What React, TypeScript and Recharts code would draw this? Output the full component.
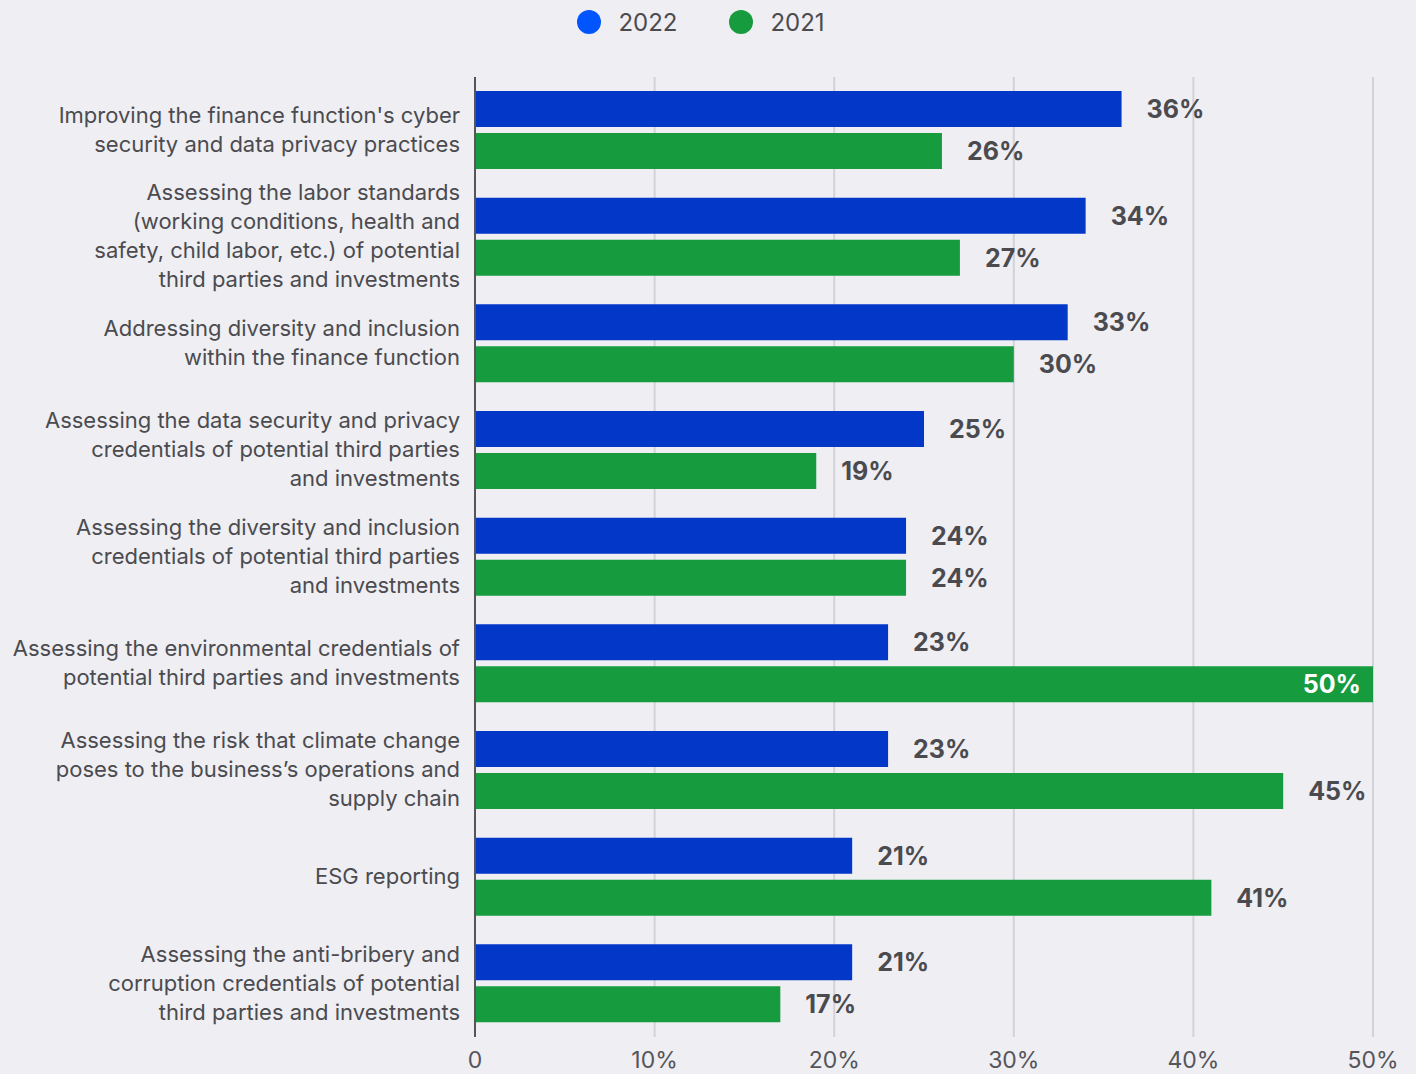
import { BarChart, Bar, XAxis, YAxis, CartesianGrid, Legend, LabelList } from "recharts";

const categories = [
  ["Improving the finance function's cyber", "security and data privacy practices"],
  ["Assessing the labor standards", "(working conditions, health and", "safety, child labor, etc.) of potential", "third parties and investments"],
  ["Addressing diversity and inclusion", "within the finance function"],
  ["Assessing the data security and privacy", "credentials of potential third parties", "and investments"],
  ["Assessing the diversity and inclusion", "credentials of potential third parties", "and investments"],
  ["Assessing the environmental credentials of", "potential third parties and investments"],
  ["Assessing the risk that climate change", "poses to the business’s operations and", "supply chain"],
  ["ESG reporting"],
  ["Assessing the anti-bribery and", "corruption credentials of potential", "third parties and investments"],
];
const values2022 = [36, 34, 33, 25, 24, 23, 23, 21, 21];
const values2021 = [26, 27, 30, 19, 24, 50, 45, 41, 17];
const xTicks = [0, 10, 20, 30, 40, 50];

const BLUE = "#0237c8";
const GREEN = "#169c3e";
const TEXT = "#4b4b4f";
const BG = "#eeeef3";

const data = categories.map((lines, i) => ({
  name: lines.join("\n"),
  y2022: values2022[i],
  y2021: values2021[i],
}));

const YTick = (props: any) => {
  const { x, y, payload } = props;
  const lines: string[] = String(payload.value).split("\n");
  const lh = 29;
  const start = y - ((lines.length - 1) * lh) / 2 - 1;
  return (
    <text x={x - 7} y={start} textAnchor="end" fill={TEXT} fontFamily="Inter" fontSize={22}>
      {lines.map((l, i) => (
        <tspan key={i} x={x - 7} y={start + i * lh} dy="0.36em">{l}</tspan>
      ))}
    </text>
  );
};

const XTick = (props: any) => {
  const { x, y, payload } = props;
  const label = payload.value === 0 ? "0" : `${payload.value}%`;
  return (
    <text x={x} y={y + 23} textAnchor="middle" fill="#55555a" fontFamily="Inter" fontSize={23}>
      {label}
    </text>
  );
};

const ValueLabel = (props: any) => {
  const { x, y, width, height, value } = props;
  const inside = value >= 50;
  return (
    <text
      x={inside ? x + width - 12 : x + width + 25}
      y={y + height / 2}
      dy="0.36em"
      textAnchor={inside ? "end" : "start"}
      fill={inside ? "#ffffff" : TEXT}
      fontFamily="Inter"
      fontWeight={700}
      fontSize={25}
    >
      {`${value}%`}
    </text>
  );
};

const LegendContent = () => (
  <div style={{ display: "flex", justifyContent: "center", alignItems: "center", height: 44, paddingRight: 14, fontFamily: "Inter", fontSize: 24, color: TEXT }}>
    {[
      { label: "2022", color: "#0055ff" },
      { label: "2021", color: GREEN },
    ].map((item, i) => (
      <div key={item.label} style={{ display: "flex", alignItems: "center", marginLeft: i ? 52 : 0 }}>
        <span style={{ width: 24, height: 24, borderRadius: 12, background: item.color, display: "inline-block", marginRight: 17 }} />
        <span>{item.label}</span>
      </div>
    ))}
  </div>
);

export default function App() {
  return (
    <div style={{ position: "absolute", left: 0, top: 0, width: 1416, height: 1074, background: BG }}>
      <BarChart
        width={1416}
        height={1074}
        data={data}
        layout="vertical"
        margin={{ top: 33, right: 43, left: 0, bottom: 0 }}
        barSize={36}
        barGap={6}
      >
        <Legend verticalAlign="top" content={<LegendContent />} wrapperStyle={{ top: 0, left: 0, width: 1416 }} />
        <CartesianGrid horizontal={false} stroke="#d2d2d8" strokeWidth={2} />
        <XAxis
          type="number"
          domain={[0, 50]}
          ticks={xTicks}
          axisLine={false}
          tickLine={false}
          height={37}
          tick={<XTick />}
          interval={0}
        />
        <YAxis
          type="category"
          dataKey="name"
          width={475}
          axisLine={{ stroke: "#55555a", strokeWidth: 2 }}
          tickLine={false}
          tick={<YTick />}
          interval={0}
        />
        <Bar dataKey="y2022" fill={BLUE} isAnimationActive={false}>
          <LabelList dataKey="y2022" content={<ValueLabel />} />
        </Bar>
        <Bar dataKey="y2021" fill={GREEN} isAnimationActive={false}>
          <LabelList dataKey="y2021" content={<ValueLabel />} />
        </Bar>
      </BarChart>
    </div>
  );
}
